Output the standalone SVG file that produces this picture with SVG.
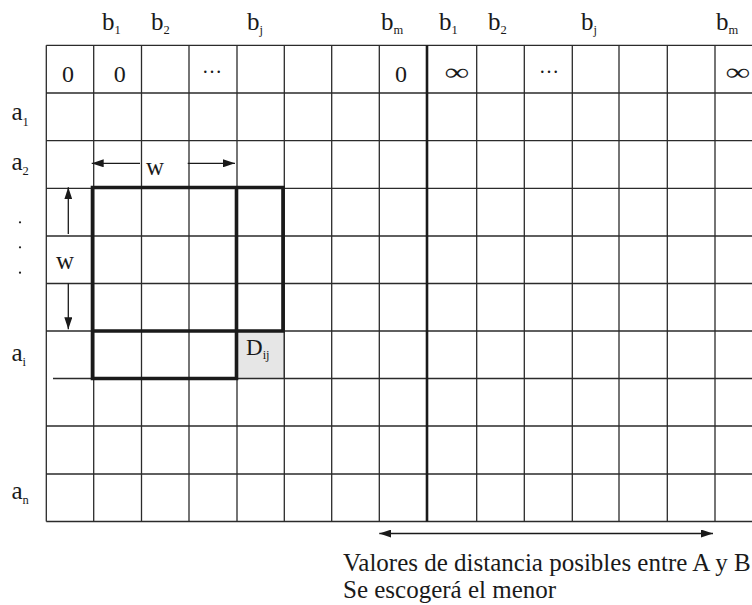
<svg xmlns="http://www.w3.org/2000/svg" width="752" height="605" viewBox="0 0 752 605">
  <style>
    .grid { stroke: #2b2b2b; stroke-width: 1.3; fill: none; }
    .thick { stroke: #1a1a1a; stroke-width: 3.6; fill: none; }
    .divider { stroke: #1a1a1a; stroke-width: 2.6; fill: none; }
    .arrow { stroke: #1a1a1a; stroke-width: 1.3; fill: none; }
    text { font-family: "Liberation Serif", "Times New Roman", serif; fill: #1a1a1a; }
    .lbl { font-size: 24px; }
    .hdr { font-size: 25px; }
    .cap { font-size: 25px; }
    .sub { font-size: 12.5px; }
  </style>
  <defs>
    <marker id="head" viewBox="0 0 12 8" refX="12" refY="4" markerWidth="12" markerHeight="8" markerUnits="userSpaceOnUse" orient="auto-start-reverse">
      <path d="M0,0 L12,4 L0,8 Z" fill="#1a1a1a"/>
    </marker>
  </defs>

  <rect width="752" height="605" fill="#ffffff"/>

  <!-- highlighted result cell D_ij -->
  <g id="cell-dij">
    <rect x="236.5" y="331" width="47.5" height="47.5" fill="#e6e6e6" stroke="#888" stroke-width="1"/>
    <text x="246" y="354.5" style="font-size:23px">D<tspan class="sub" dy="4">ij</tspan></text>
  </g>

  <!-- matrix grid -->
  <g id="grid">
    <path class="grid" d="
      M46.3,45.3 H752 M46.3,93 H752 M46.3,140.7 H752 M46.3,188.3 H752
      M46.3,236 H752 M46.3,283.5 H752 M46.3,331 H752 M53,378.5 H752
      M46.3,426 H752 M46.3,474 H752 M46.3,521.5 H752
      M46.3,45.3 V521.5 M93.7,45.3 V521.5 M141.5,45.3 V521.5 M189,45.3 V521.5
      M237,45.3 V521.5 M284.3,45.3 V521.5 M331.7,45.3 V521.5 M379.3,45.3 V521.5
      M476.7,45.3 V521.5 M524.3,45.3 V521.5 M572.3,45.3 V521.5 M619,45.3 V521.5
      M667.3,45.3 V521.5 M715,45.3 V521.5"/>
    <path class="divider" d="M427,45.3 V521.5"/>
  </g>

  <!-- sliding window outline -->
  <g id="window">
    <path class="thick" d="M92.5,187.5 H283 V331 H92.5 Z M236.5,187.5 V378.5 H92.5 V331"/>
  </g>

  <!-- column headers -->
  <g id="col-headers">
    <text class="hdr" x="102" y="30">b<tspan class="sub" dy="4">1</tspan></text>
    <text class="hdr" x="151" y="30">b<tspan class="sub" dy="4">2</tspan></text>
    <text class="hdr" x="247" y="30">b<tspan class="sub" dy="4">j</tspan></text>
    <text class="hdr" x="381" y="30">b<tspan class="sub" dy="4">m</tspan></text>
    <text class="hdr" x="439" y="30">b<tspan class="sub" dy="4">1</tspan></text>
    <text class="hdr" x="488" y="30">b<tspan class="sub" dy="4">2</tspan></text>
    <text class="hdr" x="581" y="30">b<tspan class="sub" dy="4">j</tspan></text>
    <text class="hdr" x="716" y="30">b<tspan class="sub" dy="4">m</tspan></text>
  </g>

  <!-- row headers -->
  <g id="row-headers">
    <text class="hdr" x="11.5" y="120">a<tspan class="sub" dy="6">1</tspan></text>
    <text class="hdr" x="11.5" y="170">a<tspan class="sub" dy="5">2</tspan></text>
    <circle cx="20" cy="222.3" r="1.1" fill="#1a1a1a"/>
    <circle cx="20" cy="247.3" r="1.1" fill="#1a1a1a"/>
    <circle cx="20" cy="272.7" r="1.1" fill="#1a1a1a"/>
    <text class="hdr" x="11.5" y="361">a<tspan class="sub" dy="4.5">i</tspan></text>
    <text class="hdr" x="11.5" y="499">a<tspan class="sub" dy="5">n</tspan></text>
  </g>

  <!-- first row values -->
  <g id="first-row">
    <text class="lbl" x="68" y="82" text-anchor="middle">0</text>
    <text class="lbl" x="119.7" y="82" text-anchor="middle">0</text>
    <text class="lbl" x="212" y="73" text-anchor="middle" style="font-size:20px">…</text>
    <text class="lbl" x="401" y="82" text-anchor="middle">0</text>
    <text class="lbl" x="457" y="80" text-anchor="middle" transform="translate(457 0) scale(1.45 1) translate(-457 0)">∞</text>
    <text class="lbl" x="549" y="73" text-anchor="middle" style="font-size:20px">…</text>
    <text class="lbl" x="738" y="80" text-anchor="middle" transform="translate(738 0) scale(1.45 1) translate(-738 0)">∞</text>
  </g>

  <!-- window size labels -->
  <g id="window-labels">
    <text class="hdr" x="146" y="175">w</text>
    <text class="hdr" x="56" y="269">w</text>
  </g>

  <!-- dimension arrows -->
  <g id="connectors">
    <path class="arrow" d="M140,163.3 H91.7" marker-end="url(#head)"/>
    <path class="arrow" d="M187.7,163.3 H235" marker-end="url(#head)"/>
    <path class="arrow" d="M68.3,234 V187.3" marker-end="url(#head)"/>
    <path class="arrow" d="M68.3,283.3 V329.3" marker-end="url(#head)"/>
    <path class="arrow" d="M379.3,533.5 H713" marker-start="url(#head)" marker-end="url(#head)"/>
  </g>

  <!-- caption -->
  <g id="caption">
    <text class="cap" x="343" y="571">Valores de distancia posibles entre A y B</text>
    <text class="cap" x="343" y="598">Se escogerá el menor</text>
  </g>
</svg>
